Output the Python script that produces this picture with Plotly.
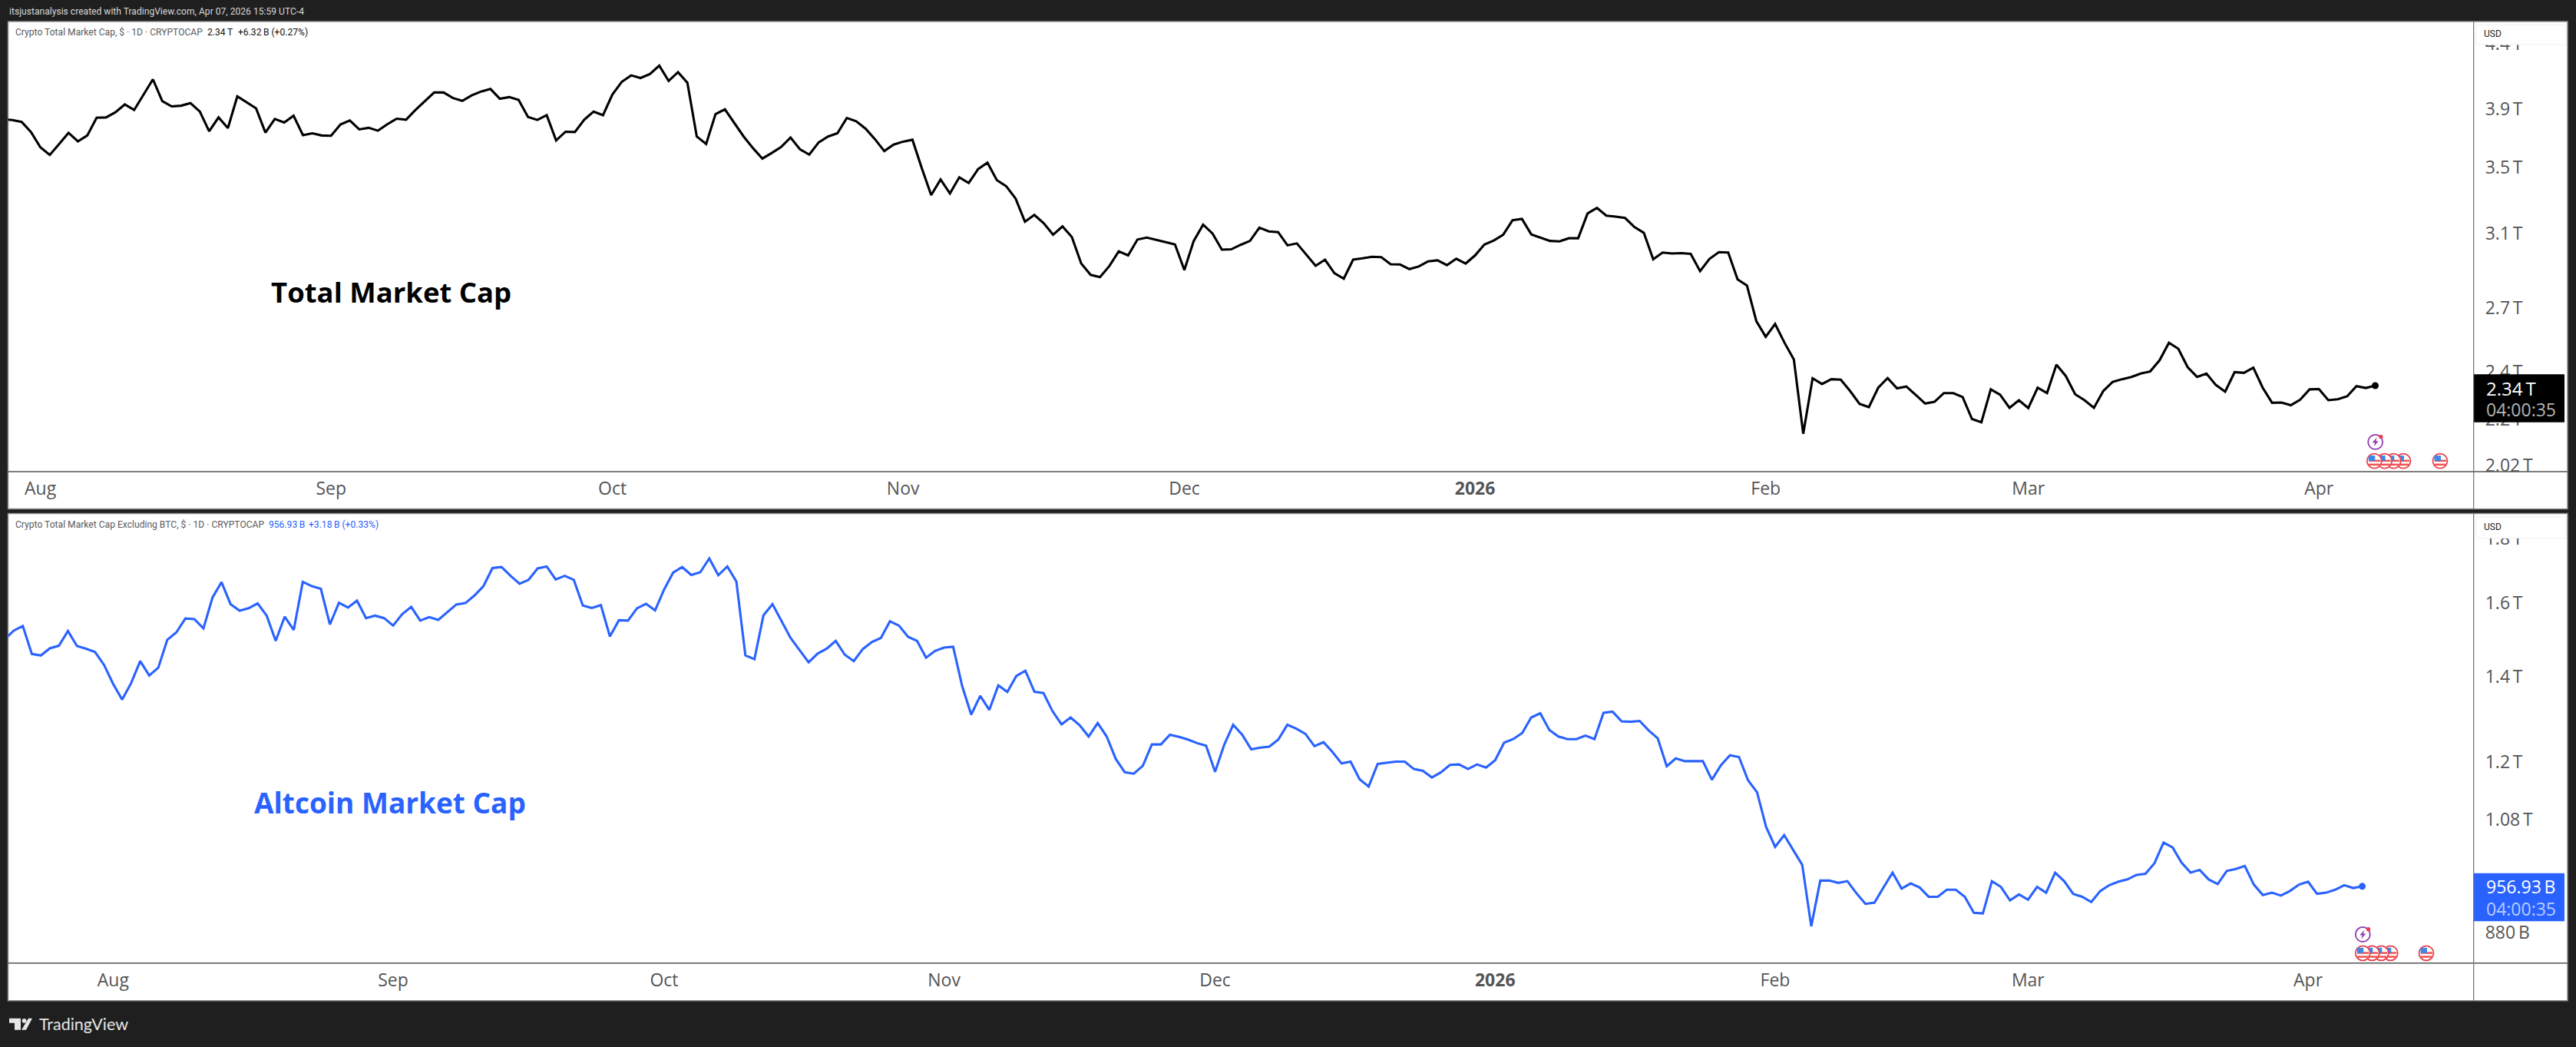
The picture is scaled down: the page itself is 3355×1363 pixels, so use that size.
import math
import pandas as pd
import plotly.graph_objects as go

W, H = 3355, 1363

# ---------- data (trillions of USD, one value per day) ----------
TOTAL_START = "2025-07-28"
TOTAL_VALUES = [
    3.827, 3.822, 3.808, 3.738,
    3.634, 3.583, 3.656, 3.732, 3.674, 3.714, 3.838, 3.840, 3.877, 3.933, 3.893, 4.004, 4.120, 3.957, 3.919, 3.924,
    3.943, 3.882, 3.743, 3.840, 3.765, 3.992, 3.949, 3.905, 3.734, 3.829, 3.804, 3.852, 3.716, 3.729, 3.714,
    3.712, 3.790, 3.818, 3.756, 3.767, 3.747, 3.792, 3.831, 3.824, 3.893, 3.957, 4.021, 4.021, 3.980, 3.959,
    4.000, 4.028, 4.047, 3.975, 3.987, 3.966, 3.843, 3.822, 3.856, 3.680, 3.740, 3.738, 3.824, 3.882, 3.856,
    4.006, 4.101, 4.150, 4.130, 4.160, 4.225, 4.108, 4.175, 4.094, 3.707, 3.656, 3.863, 3.898, 3.801, 3.707, 3.628,
    3.559, 3.596, 3.636, 3.700, 3.621, 3.585, 3.667, 3.707, 3.729, 3.836, 3.813, 3.761, 3.689, 3.609, 3.652,
    3.672, 3.685, 3.496, 3.327, 3.424, 3.337, 3.438, 3.402, 3.490, 3.532, 3.420, 3.382, 3.306, 3.167, 3.207,
    3.159, 3.092, 3.140, 3.079, 2.932, 2.871, 2.859, 2.918, 2.999, 2.976, 3.065, 3.076, 3.063, 3.052, 3.037,
    2.897, 3.057, 3.150, 3.099, 3.008, 3.010, 3.035, 3.057, 3.133, 3.111, 3.107, 3.032, 3.043, 2.980, 2.920, 2.953,
    2.880, 2.851, 2.953, 2.960, 2.969, 2.967, 2.928, 2.927, 2.902, 2.916, 2.944, 2.949, 2.923, 2.958, 2.932,
    2.976, 3.037, 3.059, 3.092, 3.176, 3.184, 3.094, 3.074, 3.057, 3.054, 3.072, 3.072, 3.216, 3.249, 3.203, 3.197,
    3.189, 3.136, 3.103, 2.955, 2.992, 2.987, 2.989, 2.985, 2.891, 2.957, 2.994, 2.992, 2.847, 2.815, 2.636,
    2.561, 2.622, 2.533, 2.456, 2.141, 2.372, 2.347, 2.368, 2.366, 2.317, 2.263, 2.249, 2.331, 2.373,
    2.328, 2.336, 2.300, 2.264, 2.271, 2.308, 2.308, 2.291, 2.200, 2.187, 2.324, 2.301, 2.246, 2.278,
    2.245, 2.331, 2.308, 2.432, 2.382, 2.303, 2.278, 2.246, 2.317, 2.356, 2.368, 2.378, 2.393, 2.402, 2.452, 2.533,
    2.505, 2.421, 2.378, 2.393, 2.343, 2.314, 2.399, 2.396, 2.419, 2.331, 2.267, 2.268, 2.257, 2.280, 2.324,
    2.325, 2.278, 2.282, 2.294, 2.338, 2.330, 2.340,
]

ALT_START = "2025-07-20"
ALT_VALUES = [
    1.498, 1.522, 1.535, 1.459, 1.455, 1.474, 1.481, 1.521, 1.480, 1.473, 1.464, 1.430,
    1.382, 1.343, 1.384, 1.440, 1.403, 1.423, 1.497, 1.517, 1.556, 1.554, 1.528, 1.616, 1.662, 1.597, 1.578, 1.585,
    1.599, 1.564, 1.494, 1.561, 1.524, 1.663, 1.650, 1.642, 1.539, 1.601, 1.587, 1.607, 1.557, 1.564, 1.557,
    1.536, 1.568, 1.589, 1.550, 1.560, 1.552, 1.574, 1.596, 1.600, 1.622, 1.650, 1.705, 1.708, 1.681, 1.657,
    1.669, 1.704, 1.710, 1.670, 1.681, 1.669, 1.593, 1.586, 1.594, 1.506, 1.551, 1.550, 1.585, 1.598, 1.579,
    1.640, 1.691, 1.708, 1.684, 1.692, 1.735, 1.683, 1.710, 1.664, 1.455, 1.445, 1.565, 1.597, 1.549, 1.502, 1.469,
    1.437, 1.460, 1.473, 1.494, 1.457, 1.440, 1.472, 1.491, 1.502, 1.548, 1.536, 1.505, 1.494, 1.449, 1.467,
    1.476, 1.478, 1.376, 1.307, 1.352, 1.318, 1.378, 1.362, 1.402, 1.415, 1.362, 1.359, 1.315, 1.284, 1.300,
    1.282, 1.256, 1.287, 1.256, 1.206, 1.177, 1.174, 1.191, 1.238, 1.238, 1.260, 1.255, 1.249, 1.241, 1.235,
    1.178, 1.237, 1.283, 1.260, 1.227, 1.231, 1.233, 1.249, 1.283, 1.274, 1.262, 1.234, 1.243, 1.221, 1.196, 1.200,
    1.162, 1.147, 1.195, 1.198, 1.200, 1.200, 1.184, 1.180, 1.166, 1.177, 1.193, 1.194, 1.184, 1.194, 1.187,
    1.203, 1.242, 1.250, 1.264, 1.300, 1.310, 1.271, 1.256, 1.250, 1.250, 1.258, 1.250, 1.311, 1.314, 1.291, 1.290,
    1.292, 1.270, 1.252, 1.190, 1.207, 1.201, 1.201, 1.201, 1.161, 1.192, 1.214, 1.210, 1.160, 1.135, 1.066,
    1.028, 1.050, 1.022, 0.995, 0.890, 0.967, 0.967, 0.963, 0.966, 0.945, 0.927, 0.929, 0.955, 0.981,
    0.953, 0.962, 0.955, 0.939, 0.939, 0.951, 0.951, 0.939, 0.912, 0.911, 0.966, 0.956, 0.933, 0.943,
    0.934, 0.956, 0.946, 0.981, 0.966, 0.944, 0.939, 0.930, 0.949, 0.959, 0.965, 0.969, 0.977, 0.979, 0.998, 1.036,
    1.027, 0.999, 0.981, 0.986, 0.969, 0.961, 0.984, 0.9875, 0.993, 0.960, 0.942, 0.946, 0.941, 0.949, 0.960,
    0.965, 0.944, 0.946, 0.951, 0.959, 0.954, 0.957,
]

MONTH_TICKS = ["2025-08-01", "2025-09-01", "2025-10-01", "2025-11-01", "2025-12-01",
               "2026-01-01", "2026-02-01", "2026-03-01", "2026-04-01"]
MONTH_LABELS = ["Aug", "Sep", "Oct", "Nov", "Dec", "<b>2026</b>", "Feb", "Mar", "Apr"]

TOTAL_TICKS = [4.4, 3.9, 3.5, 3.1, 2.7, 2.4, 2.2, 2.02]
TOTAL_TICK_LABELS = ["4.4\u2009T", "3.9\u2009T", "3.5\u2009T", "3.1\u2009T", "2.7\u2009T", "2.4\u2009T", "2.2\u2009T", "2.02\u2009T"]
ALT_TICKS = [1.8, 1.6, 1.4, 1.2, 1.08, 0.88]
ALT_TICK_LABELS = ["1.8\u2009T", "1.6\u2009T", "1.4\u2009T", "1.2\u2009T", "1.08\u2009T", "880\u2009B"]

TOTAL_XRANGE = ["2025-07-28 13:16", "2026-04-17 11:56"]
ALT_XRANGE = ["2025-07-20 08:53", "2026-04-19 08:00"]
TOTAL_YRANGE = [1.9966, 4.584]
ALT_YRANGE = [0.8325, 1.8826]

total_dates = pd.date_range(TOTAL_START, periods=len(TOTAL_VALUES), freq="D")
alt_dates = pd.date_range(ALT_START, periods=len(ALT_VALUES), freq="D")
assert str(total_dates[-1].date()) == "2026-04-07", (len(TOTAL_VALUES), total_dates[-1])
assert str(alt_dates[-1].date()) == "2026-04-07", (len(ALT_VALUES), alt_dates[-1])

# ---------- layout constants (px) ----------
DARK = "#1f1f1f"
BLUE = "#2962FF"
GREY = "#555555"
FONT = "Open Sans"
SMALL = "Roboto"
SMALL_SIZE = 12.1
TICK_SIZE = 23
Y_STRETCH = 1.0058
PANE_L, PANE_R, AXIS_X = 10.5, 3344, 3221.7
P1_T, P1_AX, P1_B = 28, 613.5, 662
P2_T, P2_AX, P2_B = 668, 1253, 1302


def px(x):
    return x / W


def py(y):
    return 1 - y * Y_STRETCH / H


fig = go.Figure()
fig.add_trace(go.Scatter(x=total_dates, y=TOTAL_VALUES, mode="lines", xaxis="x", yaxis="y",
                         line=dict(color="#000000", width=3.1), hoverinfo="skip"))
fig.add_trace(go.Scatter(x=total_dates[-1:], y=TOTAL_VALUES[-1:], mode="markers", xaxis="x", yaxis="y",
                         marker=dict(color="#000000", size=9), hoverinfo="skip"))
fig.add_trace(go.Scatter(x=alt_dates, y=ALT_VALUES, mode="lines", xaxis="x2", yaxis="y2",
                         line=dict(color=BLUE, width=3.1), hoverinfo="skip"))
fig.add_trace(go.Scatter(x=alt_dates[-1:], y=ALT_VALUES[-1:], mode="markers", xaxis="x2", yaxis="y2",
                         marker=dict(color=BLUE, size=9), hoverinfo="skip"))

shapes = []


def rect(x0, y0, x1, y1, fill, line=None, lw=0, layer="above"):
    shapes.append(dict(type="rect", xref="paper", yref="paper", x0=px(x0), x1=px(x1), y0=py(y0), y1=py(y1),
                       fillcolor=fill, line=dict(color=line or fill, width=lw), layer=layer))


def hline(x0, x1, y, color, w=1.5):
    shapes.append(dict(type="line", xref="paper", yref="paper", x0=px(x0), x1=px(x1), y0=py(y), y1=py(y),
                       line=dict(color=color, width=w), layer="above"))


def vline(x, y0, y1, color, w=1.2):
    shapes.append(dict(type="line", xref="paper", yref="paper", x0=px(x), x1=px(x), y0=py(y0), y1=py(y1),
                       line=dict(color=color, width=w), layer="above"))


def circle(cx, cy, r, fill, line=None, lw=0):
    shapes.append(dict(type="circle", xref="paper", yref="paper", x0=px(cx - r), x1=px(cx + r),
                       y0=py(cy + r), y1=py(cy - r), fillcolor=fill, line=dict(color=line or fill, width=lw),
                       layer="above"))


def poly(points, fill):
    path = "M " + " L ".join(f"{px(a):.6f},{py(b):.6f}" for a, b in points) + " Z"
    shapes.append(dict(type="path", xref="paper", yref="paper", path=path, fillcolor=fill,
                       line=dict(color=fill, width=0), layer="above"))


def flag(cx, cy):
    circle(cx, cy, 9.5, "#ffffff", "#e8434f", 1.8)
    rect(cx - 7, cy - 1.5, cx + 8, cy + 1, "#ef5350")
    rect(cx - 7, cy + 3.5, cx + 7, cy + 6, "#ef5350")
    rect(cx - 7.5, cy - 7, cx + 1, cy + 0, "#3f88e8")


def bolt(cx, cy):
    circle(cx, cy, 9.5, "#ffffff", "#8e3bb0", 1.8)
    poly([(cx + 2, cy - 6), (cx - 4, cy + 1), (cx - 0.5, cy + 1), (cx - 2, cy + 6), (cx + 4, cy - 1), (cx + 0.5, cy - 1)],
         "#8e3bb0")
    circle(cx + 7.2, cy - 6.8, 2.6, "#f23645")


# pane backgrounds
for top, bottom in ((P1_T, P1_B), (P2_T, P2_B)):
    rect(PANE_L, top, PANE_R, bottom, "#ffffff", "#8c8c8c", 1.5, layer="below")

# strips that clip price labels at the top/bottom of each scale
rect(AXIS_X + 1, P1_AX, PANE_R - 1, P1_B - 1, "#ffffff")
rect(AXIS_X + 1, P2_AX, PANE_R - 1, P2_B - 1, "#ffffff")

# USD boxes
rect(3225, 32.5, 3342, 58, "#ffffff", "#f0f0f0", 1)
rect(3225, 672.5, 3342, 700, "#ffffff", "#f0f0f0", 1)

# price label boxes
rect(AXIS_X, 487, 3340, 549.5, "#000000")
rect(AXIS_X, 1136, 3340, 1198.5, BLUE)

# axis lines
hline(PANE_L, PANE_R, P1_AX, "#555555")
hline(PANE_L, PANE_R, P2_AX, "#555555")
vline(AXIS_X, P1_T, P1_B, "#6e6e6e")
vline(AXIS_X, P2_T, P2_B, "#6e6e6e")

# event icons
for cx in (3130, 3117.3, 3105.7, 3092.3):
    flag(cx, 599.7)
flag(3178, 599.7)
bolt(3093.7, 575)
for cx in (3113.3, 3101.3, 3089.3, 3077.3):
    flag(cx, 1240)
flag(3160, 1240)
bolt(3077.3, 1215.7)

# TradingView logo mark
poly([(12, 1325), (27, 1325), (27, 1340), (19, 1340), (19, 1331), (12, 1331)], "#e6e6e6")
poly([(37, 1325), (42, 1325), (34, 1340), (28, 1340)], "#e6e6e6")
circle(31.5, 1328, 2.9, "#e6e6e6")


def note(x, y, text, size, color, bold=False, font=FONT):
    t = f"<b>{text}</b>" if bold else text
    return dict(xref="paper", yref="paper", x=px(x), y=py(y), text=t, showarrow=False, xanchor="left",
                yanchor="middle", align="left", xshift=0, yshift=0, font=dict(family=font, size=size, color=color))


annotations = [
    note(10, 15, "itsjustanalysis created with TradingView.com, Apr 07, 2026 15:59 UTC-4", SMALL_SIZE, "#d9d9d9", font=SMALL),
    note(18, 42, "Crypto Total Market Cap, $ \u00b7 1D \u00b7 CRYPTOCAP", SMALL_SIZE, "#5a5a5a", font=SMALL),
    note(268, 42, "2.34\u2009T", SMALL_SIZE, "#111111", font=SMALL),
    note(308, 42, "+6.32\u2009B (+0.27%)", SMALL_SIZE, "#111111", font=SMALL),
    note(18, 683, "Crypto Total Market Cap Excluding BTC, $ \u00b7 1D \u00b7 CRYPTOCAP", SMALL_SIZE, "#5a5a5a", font=SMALL),
    note(348, 683, "956.93\u2009B", SMALL_SIZE, BLUE, font=SMALL),
    note(400, 683, "+3.18\u2009B (+0.33%)", SMALL_SIZE, BLUE, font=SMALL),
    note(351, 380, "Total Market Cap", 36.5, "#000000", bold=True),
    note(329, 1044, "Altcoin Market Cap", 37, BLUE, bold=True),
    note(3233, 44, "USD", 12, "#222222", font=SMALL),
    note(3233, 685.5, "USD", 12, "#222222", font=SMALL),
    note(3236, 505, "2.34\u2009T", TICK_SIZE + 1, "#ffffff"),
    note(3236, 533, "04:00:35", TICK_SIZE, "#b4b4b4"),
    note(3236, 1153, "956.93\u2009B", TICK_SIZE, "#ffffff"),
    note(3236, 1182, "04:00:35", TICK_SIZE, "#b8ccff"),
    note(49, 1332, "TradingView", 21.5, "#e6e6e6", font="Lato"),
]


def xaxis_cfg(rng, anchor):
    return dict(type="date", range=rng, domain=[px(PANE_L), px(AXIS_X)], anchor=anchor,
                tickmode="array", tickvals=MONTH_TICKS, ticktext=MONTH_LABELS, showgrid=False, zeroline=False,
                showline=False, ticks="", ticklabelstandoff=6,
                tickfont=dict(family=FONT, size=TICK_SIZE, color=GREY))


def yaxis_cfg(rng, top, bottom, anchor, vals, labels):
    return dict(type="log", range=[math.log10(rng[0]), math.log10(rng[1])],
                domain=[py(bottom), py(top)], anchor=anchor, side="right",
                tickmode="array", tickvals=vals, ticktext=labels, showgrid=False, zeroline=False,
                showline=False, ticks="", ticklabelstandoff=14,
                tickfont=dict(family=FONT, size=TICK_SIZE, color=GREY))


fig.update_layout(
    width=W, height=H, margin=dict(l=0, r=0, t=0, b=0, pad=0), autosize=False,
    paper_bgcolor=DARK, plot_bgcolor="#ffffff", showlegend=False, hovermode=False,
    shapes=shapes, annotations=annotations,
    xaxis=xaxis_cfg(TOTAL_XRANGE, "y"),
    yaxis=yaxis_cfg(TOTAL_YRANGE, P1_T, P1_AX, "x", TOTAL_TICKS, TOTAL_TICK_LABELS),
    xaxis2=xaxis_cfg(ALT_XRANGE, "y2"),
    yaxis2=yaxis_cfg(ALT_YRANGE, P2_T, P2_AX, "x2", ALT_TICKS, ALT_TICK_LABELS),
)

fig.write_html("out.html", config={"displayModeBar": False, "responsive": False},
               default_width=f"{W}px", default_height=f"{H}px",
               post_script="document.documentElement.style.cssText='margin:0;padding:0;overflow:hidden';"
                           "document.body.style.cssText='margin:0;padding:0;overflow:hidden;background:#1f1f1f';"
                           "window.scrollTo(0,0);")
